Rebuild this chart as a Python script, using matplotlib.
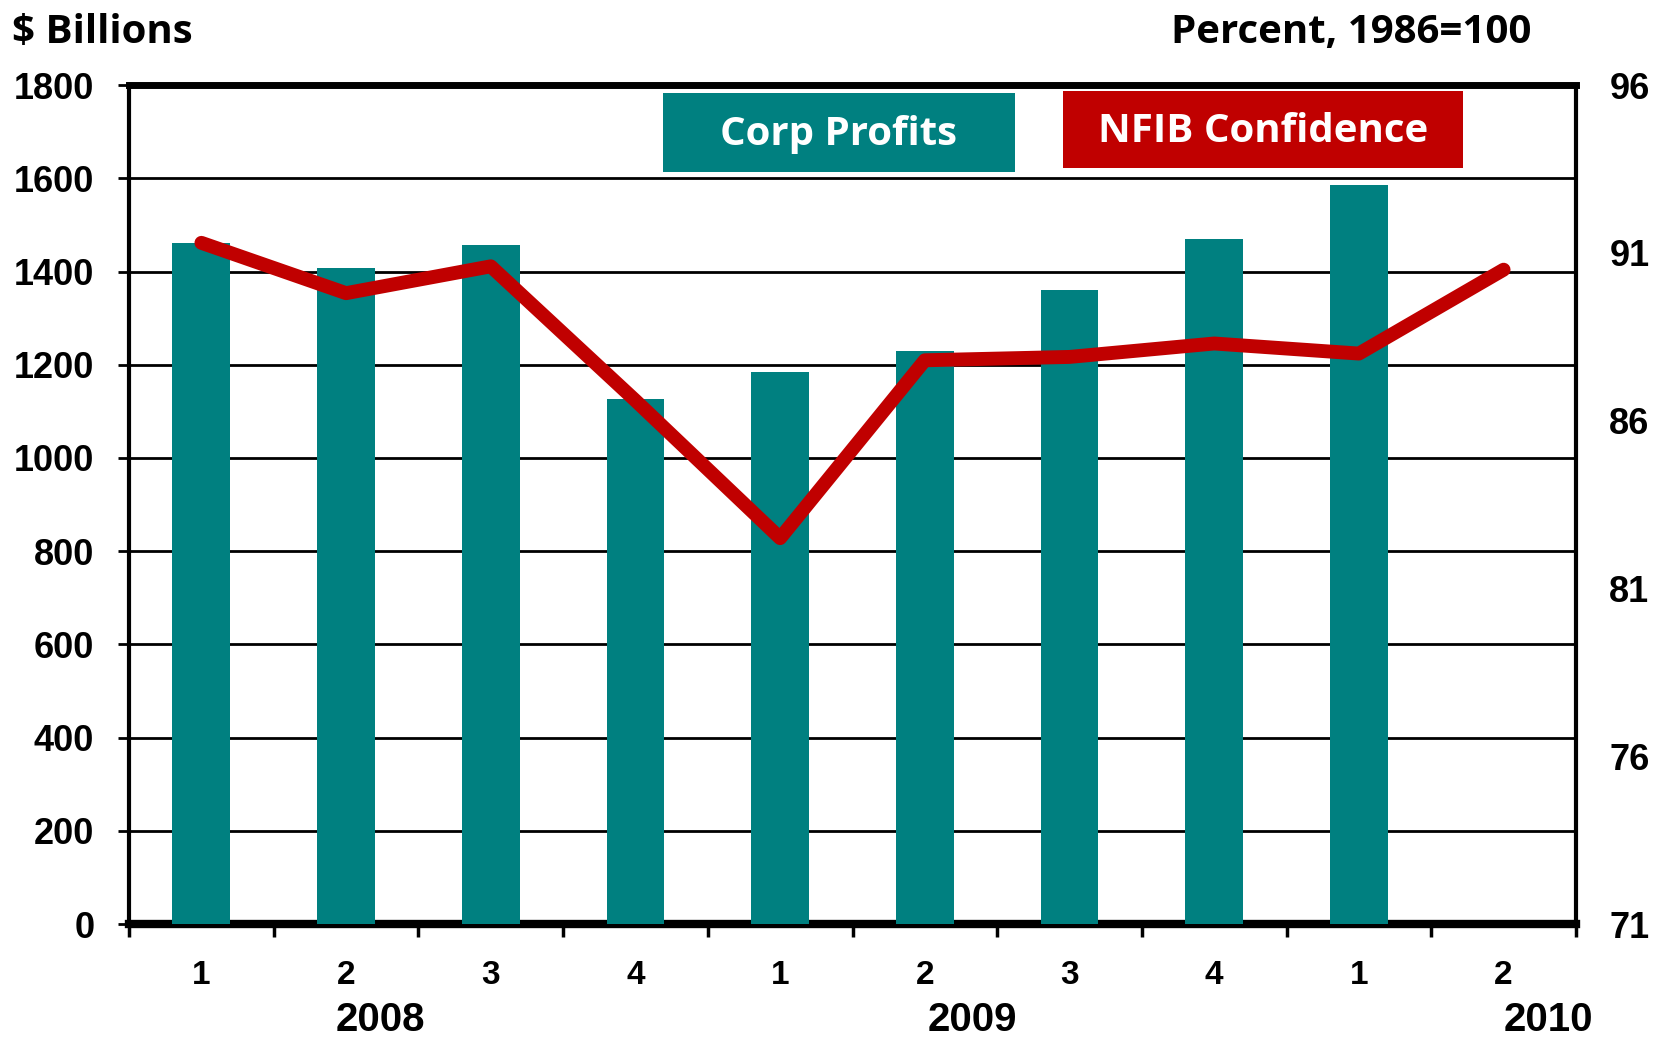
import numpy as np
import matplotlib.pyplot as plt
from matplotlib import font_manager
from matplotlib.patches import Rectangle

quarters = ['1', '2', '3', '4', '1', '2', '3', '4', '1', '2']
years = ['2008', '2009', '2010']
year_pos = [1.24, 5.33, 9.31]
corp_profits = [1461, 1407, 1457, 1127, 1184, 1230, 1361, 1470, 1586, np.nan]
nfib = [91.3, 89.8, 90.6, 86.6, 82.5, 87.8, 87.9, 88.3, 88.0, 90.5]

teal = '#008080'
red = '#C00000'

names = {f.name for f in font_manager.fontManager.ttflist}
narrow = 'Liberation Sans Narrow' if 'Liberation Sans Narrow' in names else 'Liberation Sans'
tick_font = 'Liberation Sans'
head_font = 'Open Sans'

fig = plt.figure(figsize=(16.61, 10.38), dpi=100)
ax = fig.add_axes([0.0777, 0.1098, 0.8711, 0.8082])
x = np.arange(len(quarters))

ax.bar(x, corp_profits, width=0.4, color=teal, zorder=3)
ax.set_xlim(-0.5, len(quarters) - 0.5)
ax.set_ylim(0, 1800)
ax.set_yticks(np.arange(0, 1801, 200))
ax.yaxis.grid(True, color='black', linewidth=2, zorder=1)
ax.set_axisbelow(True)

ax.tick_params(axis='y', labelsize=26, length=8, width=2, pad=17)
for lab in ax.get_yticklabels():
    lab.set_fontfamily(tick_font)
    lab.set_fontweight('bold')

ax.set_xticks(x)
ax.set_xticklabels(quarters, fontfamily=narrow, fontweight='bold', fontsize=24)
ax.tick_params(axis='x', length=0, pad=26)
ax.set_xticks(np.arange(-0.5, len(quarters)), minor=True)
ax.tick_params(axis='x', which='minor', length=9, width=2.5, direction='out')

for y, yr in zip(year_pos, years):
    ax.text(y, -0.114, yr, transform=ax.get_xaxis_transform(), ha='center', va='center',
            fontsize=29, fontweight='bold', fontfamily=narrow)

ax.spines['top'].set_linewidth(5)
ax.spines['bottom'].set_linewidth(6)
ax.spines['left'].set_linewidth(3)
ax.spines['right'].set_linewidth(3)

ax2 = ax.twinx()
ax2.plot(x, nfib, color=red, linewidth=10, solid_capstyle='round', solid_joinstyle='round', zorder=5)
ax2.set_ylim(71, 96)
ax2.set_yticks(np.arange(71, 97, 5))
ax2.tick_params(axis='y', length=0, labelsize=26, pad=24)
for lab in ax2.get_yticklabels():
    lab.set_fontfamily(narrow)
    lab.set_fontweight('bold')
for s in ax2.spines.values():
    s.set_visible(False)

# legend boxes
fig.patches.append(Rectangle((0.3992, 0.8347), 0.2118, 0.0755, transform=fig.transFigure,
                             facecolor=teal, edgecolor='none', zorder=10))
fig.text(0.505, 0.8704, 'Corp Profits', ha='center', va='center', fontsize=29,
         fontweight='bold', fontfamily=head_font, color='white', zorder=11)
fig.patches.append(Rectangle((0.6397, 0.8378), 0.241, 0.0744, transform=fig.transFigure,
                             facecolor=red, edgecolor='none', zorder=10))
fig.text(0.7602, 0.8735, 'NFIB Confidence', ha='center', va='center', fontsize=29,
         fontweight='bold', fontfamily=head_font, color='white', zorder=11)

fig.text(0.007, 0.969, '$ Billions', ha='left', va='center', fontsize=29,
         fontweight='bold', fontfamily=head_font)
fig.text(0.922, 0.969, 'Percent, 1986=100', ha='right', va='center', fontsize=29,
         fontweight='bold', fontfamily=head_font)

fig.savefig('out.png', dpi=100)
